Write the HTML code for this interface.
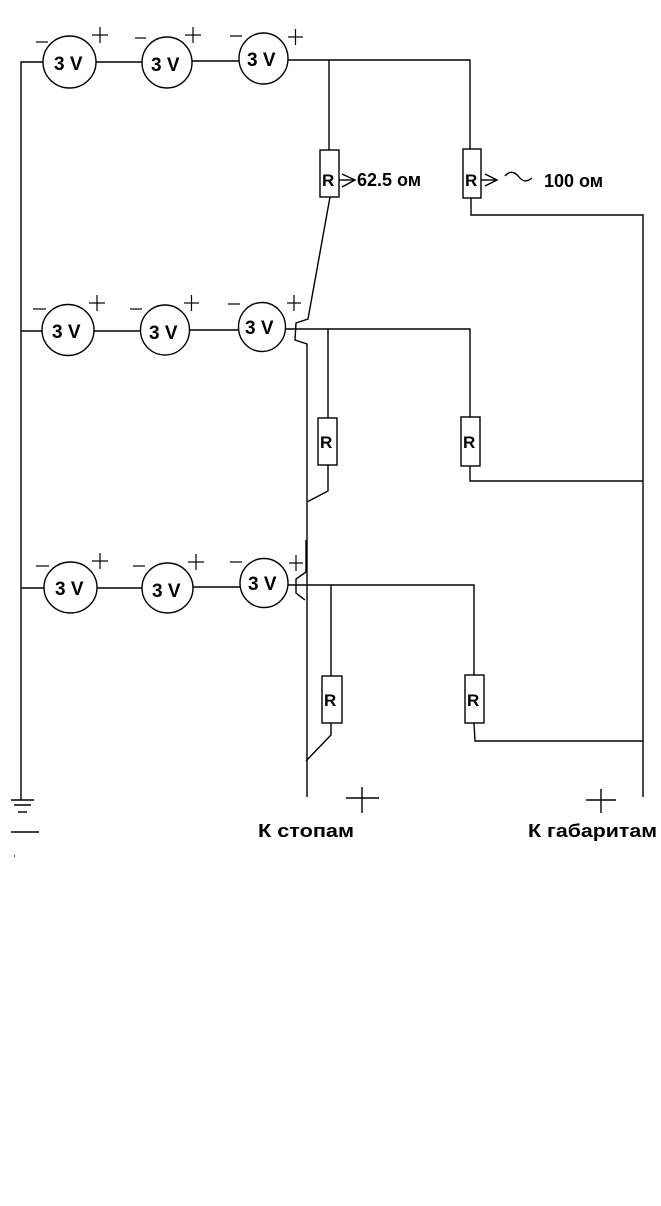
<!DOCTYPE html>
<html><head><meta charset="utf-8"><style>
html,body{margin:0;padding:0;background:#fff;}
svg{display:block;}
text{font-family:"Liberation Sans","DejaVu Sans",sans-serif;font-weight:bold;fill:#000;}
</style></head><body>
<svg width="661" height="1206" viewBox="0 0 661 1206" xmlns="http://www.w3.org/2000/svg">
<g fill="none" stroke="#000" stroke-width="1.4">
<!-- row 1 -->
<ellipse cx="69.5" cy="62" rx="26.5" ry="26"/>
<ellipse cx="167" cy="62.5" rx="25" ry="25.5"/>
<ellipse cx="263.5" cy="58.5" rx="24.5" ry="25.5"/>
<polyline points="21,800 21,62 43,62"/>
<line x1="96" y1="62" x2="142" y2="62"/>
<line x1="192" y1="61" x2="239" y2="61"/>
<polyline points="288,60 470,60 470,149"/>
<line x1="329" y1="60" x2="329" y2="150"/>
<rect x="320" y="150" width="19" height="47"/>
<rect x="463" y="149" width="18" height="49"/>
<polyline points="471,198 471,215 643,215 643,797"/>
<polyline points="330,197 308,319 296,323 295,340 307,344 307,797"/>
<!-- row 2 -->
<ellipse cx="68" cy="330" rx="26" ry="25.5"/>
<ellipse cx="165" cy="330" rx="24.5" ry="25"/>
<ellipse cx="262" cy="327" rx="23.5" ry="24.5"/>
<line x1="21" y1="331" x2="42" y2="331"/>
<line x1="94" y1="331" x2="140" y2="331"/>
<line x1="189" y1="330" x2="238" y2="330"/>
<polyline points="286,329 470,329 470,417"/>
<line x1="328" y1="329" x2="328" y2="418"/>
<rect x="318" y="418" width="19" height="47"/>
<rect x="461" y="417" width="19" height="49"/>
<polyline points="328,465 328,491 307,502"/>
<polyline points="470,466 470,481 643,481"/>
<!-- row 3 -->
<ellipse cx="70.5" cy="587.5" rx="26.5" ry="25.5"/>
<ellipse cx="167.5" cy="588" rx="25.5" ry="25"/>
<ellipse cx="264" cy="583" rx="24" ry="24.5"/>
<line x1="21" y1="588" x2="44" y2="588"/>
<line x1="97" y1="588" x2="142" y2="588"/>
<line x1="193" y1="587" x2="240" y2="587"/>
<polyline points="288,585 474,585 474,675"/>
<polyline points="306,540 306,572 296,579 296,593 305,600"/>
<line x1="331" y1="585" x2="331" y2="676"/>
<rect x="322" y="676" width="20" height="47"/>
<rect x="465" y="675" width="19" height="48"/>
<polyline points="331,723 331,735 306,761"/>
<polyline points="474,723 475,741 643,741"/>
<!-- signs -->
<g stroke-width="1.2">
<line x1="36" y1="42" x2="48" y2="42"/><line x1="92" y1="35" x2="108" y2="35"/><line x1="100" y1="27" x2="100" y2="43"/>
<line x1="135" y1="38" x2="146" y2="38"/><line x1="185" y1="35" x2="201" y2="35"/><line x1="193" y1="27" x2="193" y2="43"/>
<line x1="230" y1="36" x2="242" y2="36"/><line x1="288" y1="37" x2="303" y2="37"/><line x1="295.5" y1="29" x2="295.5" y2="45"/>
<line x1="33" y1="309" x2="46" y2="309"/><line x1="89" y1="303" x2="105" y2="303"/><line x1="97" y1="295" x2="97" y2="311"/>
<line x1="130" y1="309" x2="142" y2="309"/><line x1="184" y1="303" x2="199" y2="303"/><line x1="191.5" y1="295" x2="191.5" y2="311"/>
<line x1="228" y1="304" x2="240" y2="304"/><line x1="287" y1="303" x2="301" y2="303"/><line x1="294" y1="295" x2="294" y2="311"/>
<line x1="36" y1="566" x2="49" y2="566"/><line x1="92" y1="561" x2="108" y2="561"/><line x1="100" y1="553" x2="100" y2="569"/>
<line x1="133" y1="566" x2="145" y2="566"/><line x1="188" y1="562" x2="204" y2="562"/><line x1="196" y1="554" x2="196" y2="570"/>
<line x1="230" y1="562" x2="242" y2="562"/><line x1="289" y1="563" x2="303" y2="563"/><line x1="296" y1="555" x2="296" y2="571"/>
</g>
<!-- ground -->
<line x1="11" y1="800" x2="34" y2="800"/>
<line x1="14" y1="805" x2="31" y2="805"/>
<line x1="18" y1="812" x2="27" y2="812"/>
<line x1="11" y1="832" x2="39" y2="832"/>
<line x1="14" y1="856" x2="15" y2="856"/>
<!-- output plus -->
<line x1="346" y1="798" x2="379" y2="798"/><line x1="362" y1="787" x2="362" y2="813"/>
<line x1="586" y1="800" x2="616" y2="800"/><line x1="601" y1="789" x2="601" y2="813"/>
<!-- arrows and tilde -->
<polyline points="342,174 355,180 342,187"/>
<line x1="339" y1="180" x2="355" y2="180"/>
<polyline points="485,174 497,180 485,186"/>
<line x1="481" y1="180" x2="497" y2="180"/>
<path d="M505,176 C510,170 515,172 519,177 C523,182 527,182 532,178"/>
</g>
<g font-size="19">
<text x="54" y="70">3 V</text>
<text x="151" y="71">3 V</text>
<text x="247" y="66">3 V</text>
<text x="52" y="338">3 V</text>
<text x="149" y="339">3 V</text>
<text x="245" y="334">3 V</text>
<text x="55" y="595">3 V</text>
<text x="152" y="597">3 V</text>
<text x="248" y="590">3 V</text>
<text x="322" y="186" font-size="17">R</text>
<text x="465" y="186" font-size="17">R</text>
<text x="320" y="448" font-size="17">R</text>
<text x="463" y="448" font-size="17">R</text>
<text x="324" y="706" font-size="17">R</text>
<text x="467" y="706" font-size="17">R</text>
<text x="357" y="186" font-size="18">62.5 ом</text>
<text x="544" y="187" font-size="18">100 ом</text>
<text x="258" y="837" font-size="18" textLength="96" lengthAdjust="spacingAndGlyphs">К стопам</text>
<text x="528" y="837" font-size="18" textLength="129" lengthAdjust="spacingAndGlyphs">К габаритам</text>
</g>
</svg>
</body></html>
